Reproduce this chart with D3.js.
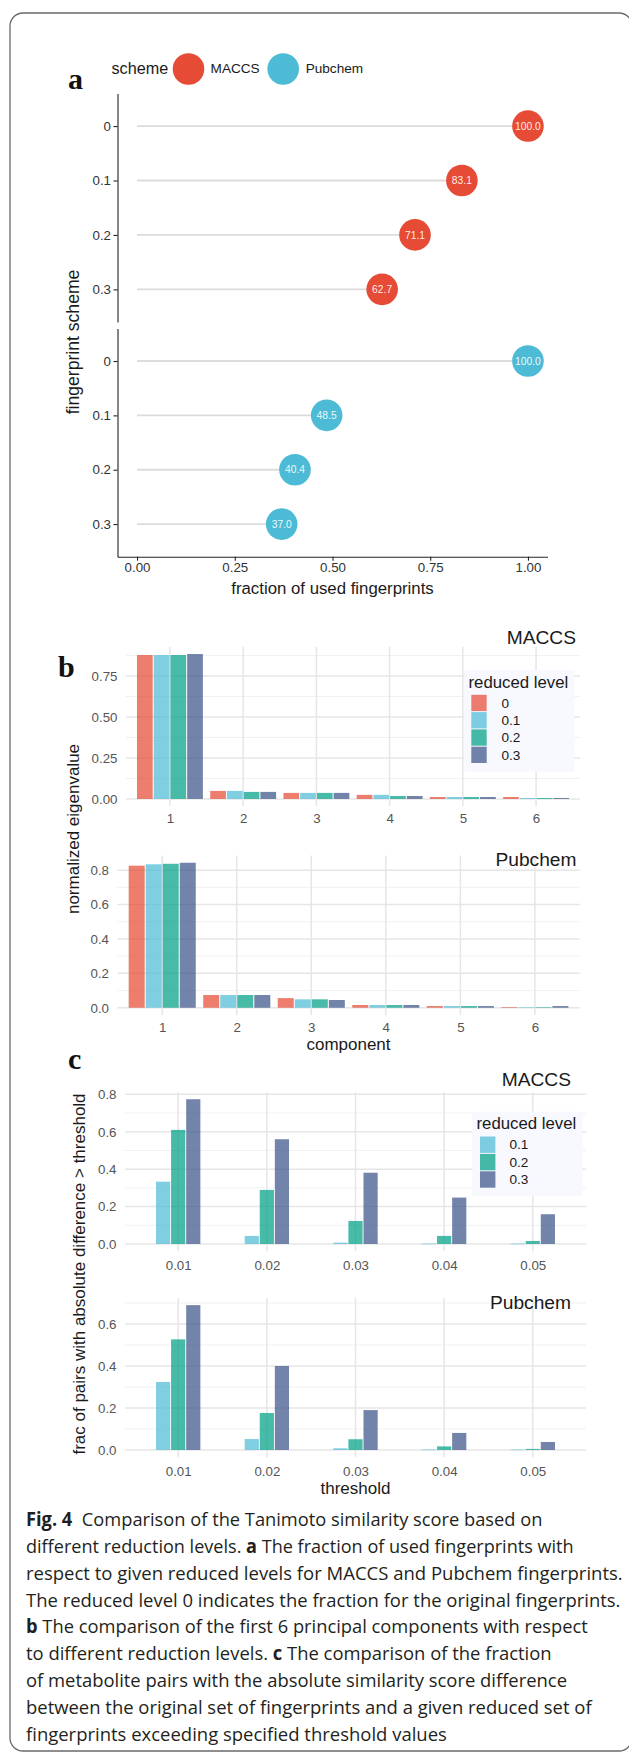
<!DOCTYPE html>
<html><head><meta charset="utf-8">
<script src="https://cdn.jsdelivr.net/npm/d3@7"></script>
<style>body{margin:0;background:#fff}svg{display:block}</style>
</head><body>
<script>
// ---------- DATA ----------
const reducedLevelsA = ["0", "0.1", "0.2", "0.3"];
const schemes = ["MACCS", "Pubchem"];
const fracMACCS = [1.000, 0.831, 0.711, 0.627];
const fracPubchem = [1.000, 0.485, 0.404, 0.370];
const fracTicks = [0, 0.25, 0.5, 0.75, 1];

const components = ["1", "2", "3", "4", "5", "6"];
const levelsB = ["0", "0.1", "0.2", "0.3"];
const eigMACCS_0  = [0.878, 0.049, 0.037, 0.025, 0.012, 0.012];
const eigMACCS_01 = [0.878, 0.049, 0.037, 0.025, 0.012, 0.006];
const eigMACCS_02 = [0.878, 0.043, 0.037, 0.018, 0.012, 0.006];
const eigMACCS_03 = [0.884, 0.043, 0.037, 0.018, 0.012, 0.006];
const eigPub_0  = [0.826, 0.074, 0.056, 0.016, 0.010, 0.004];
const eigPub_01 = [0.834, 0.074, 0.049, 0.016, 0.010, 0.003];
const eigPub_02 = [0.837, 0.074, 0.049, 0.016, 0.010, 0.003];
const eigPub_03 = [0.843, 0.074, 0.045, 0.016, 0.010, 0.010];
const ticksBMACCS = [0, 0.25, 0.5, 0.75];
const minorBMACCS = [0.125, 0.375, 0.625, 0.875];
const ticksBPub = [0, 0.2, 0.4, 0.6, 0.8];
const minorBPub = [0.1, 0.3, 0.5, 0.7];

const thresholds = ["0.01", "0.02", "0.03", "0.04", "0.05"];
const levelsC = ["0.1", "0.2", "0.3"];
const diffMACCS_01 = [0.333, 0.043, 0.007, 0.002, 0.002];
const diffMACCS_02 = [0.610, 0.289, 0.123, 0.043, 0.016];
const diffMACCS_03 = [0.774, 0.560, 0.381, 0.248, 0.159];
const diffPub_01 = [0.324, 0.052, 0.008, 0.002, 0.002];
const diffPub_02 = [0.527, 0.176, 0.051, 0.017, 0.005];
const diffPub_03 = [0.690, 0.400, 0.190, 0.081, 0.038];
const ticksCMACCS = [0, 0.2, 0.4, 0.6, 0.8];
const minorCMACCS = [0.1, 0.3, 0.5, 0.7];
const ticksCPub = [0, 0.2, 0.4, 0.6];
const minorCPub = [0.1, 0.3, 0.5, 0.7];

const levelColors = {"0": "#E64B35", "0.1": "#4DBBD5", "0.2": "#00A087", "0.3": "#3C5488"};
const schemeColors = {"MACCS": "#E64B35", "Pubchem": "#4DBBD5"};

const captionLines = [
  [["Fig. 4", true], ["  Comparison of the Tanimoto similarity score based on", false]],
  [["different reduction levels. ", false], ["a", true], [" The fraction of used fingerprints with", false]],
  [["respect to given reduced levels for MACCS and Pubchem fingerprints.", false]],
  [["The reduced level 0 indicates the fraction for the original fingerprints.", false]],
  [["b", true], [" The comparison of the first 6 principal components with respect", false]],
  [["to different reduction levels. ", false], ["c", true], [" The comparison of the fraction", false]],
  [["of metabolite pairs with the absolute similarity score difference", false]],
  [["between the original set of fingerprints and a given reduced set of", false]],
  [["fingerprints exceeding specified threshold values", false]]
];
const captionWidths = [517, 548, 597, 595, 562, 526, 541, 566, 421];

// ---------- SETUP ----------
const W = 629, H = 1752;
const FONT = "'Liberation Sans', Arial, Helvetica, sans-serif";
const svg = d3.select("body").append("svg")
  .attr("width", W).attr("height", H)
  .style("font-family", FONT);

svg.append("rect").attr("x", 10).attr("y", 13).attr("width", 622).attr("height", 1738)
  .attr("rx", 13).attr("fill", "none").attr("stroke", "#6a6a6a").attr("stroke-width", 1.3);

function panelLetter(t, x, y) {
  svg.append("text").attr("x", x).attr("y", y).text(t)
    .style("font-family", "'Liberation Serif', 'Times New Roman', serif")
    .style("font-weight", "bold").style("font-size", "30px").attr("fill", "#111");
}
function rotTitle(t, cx, cy, size) {
  svg.append("text").attr("transform", `translate(${cx},${cy}) rotate(-90)`)
    .attr("text-anchor", "middle").attr("dy", "0.35em").text(t)
    .style("font-size", size + "px").attr("fill", "#1a1a1a");
}
function hTitle(t, cx, cy, size, anchor) {
  svg.append("text").attr("x", cx).attr("y", cy).attr("dy", "0.35em")
    .attr("text-anchor", anchor || "middle").text(t)
    .style("font-size", size + "px").attr("fill", "#1a1a1a");
}

// ---------- PANEL A ----------
panelLetter("a", 68, 89);
hTitle("scheme", 111.5, 68.5, 16.2, "start");
const legA = [{s: "MACCS", cx: 188.5, tx: 210.6}, {s: "Pubchem", cx: 283.2, tx: 305.7}];
legA.forEach(l => {
  svg.append("circle").attr("cx", l.cx).attr("cy", 69).attr("r", 15.8).attr("fill", schemeColors[l.s]);
  svg.append("text").attr("x", l.tx).attr("y", 68.5).attr("dy", "0.35em").text(l.s)
    .style("font-size", "13.6px").attr("fill", "#1a1a1a");
});

const xA = d3.scaleLinear().domain([-0.05, 1.05]).range([117.5, 547.5]);
const facetsA = [
  {s: "MACCS", vals: fracMACCS, top: 93.4, bottom: 322},
  {s: "Pubchem", vals: fracPubchem, top: 328.4, bottom: 556.7}
];
facetsA.forEach(f => {
  const y = d3.scalePoint().domain(reducedLevelsA).range([f.top, f.bottom]).padding(0.6);
  const ga = svg.append("g").attr("transform", "translate(117.5,0)")
    .call(d3.axisLeft(y).tickSize(4).tickSizeOuter(0).tickPadding(2.5));
  ga.selectAll("path,line").attr("stroke", "#222").attr("stroke-width", 1.1);
  ga.selectAll("text").style("font-size", "13.3px").style("font-family", FONT).attr("fill", "#333");
  const g = svg.append("g");
  g.selectAll("line").data(f.vals).join("line")
    .attr("x1", xA(0)).attr("x2", d => xA(d))
    .attr("y1", (d, i) => y(reducedLevelsA[i])).attr("y2", (d, i) => y(reducedLevelsA[i]))
    .attr("stroke", "#dcdcdc").attr("stroke-width", 1.8);
  g.selectAll("circle").data(f.vals).join("circle")
    .attr("cx", d => xA(d)).attr("cy", (d, i) => y(reducedLevelsA[i]))
    .attr("r", 15.8).attr("fill", schemeColors[f.s]);
  g.selectAll("text").data(f.vals).join("text")
    .attr("x", d => xA(d)).attr("y", (d, i) => y(reducedLevelsA[i]))
    .attr("dy", "0.35em").attr("text-anchor", "middle")
    .text(d => d3.format(".1f")(d * 100))
    .style("font-size", "10.3px").attr("fill", "#fff").attr("fill-opacity", 0.92);
});
const gxA = svg.append("g").attr("transform", "translate(0,556.7)")
  .call(d3.axisBottom(xA).tickValues(fracTicks).tickFormat(d3.format(".2f"))
    .tickSize(4).tickSizeOuter(0).tickPadding(2));
gxA.selectAll("path,line").attr("stroke", "#222").attr("stroke-width", 1.1);
gxA.selectAll("text").style("font-size", "13.3px").style("font-family", FONT).attr("fill", "#333");
hTitle("fraction of used fingerprints", 332.5, 588.5, 16.8);
rotTitle("fingerprint scheme", 73, 342, 17.6);

// ---------- BAR PANELS ----------
function barPanel(o) {
  const x = d3.scalePoint().domain(o.cats).range([o.left, o.right]).padding(0.6);
  const m = d3.max(o.series.flat());
  const y = d3.scaleLinear().domain([-0.05 * m, 1.05 * m]).range([o.bottom, o.top]);
  const step = x.step();
  const sub = d3.scaleBand().domain(o.levels)
    .range([-o.gw * step / 2, o.gw * step / 2]).paddingInner(o.pad);
  const g = svg.append("g");
  g.selectAll(".mn").data(o.minor).join("line").attr("class", "mn")
    .attr("x1", o.left).attr("x2", o.right).attr("y1", d => y(d)).attr("y2", d => y(d))
    .attr("stroke", "#ededed").attr("stroke-width", 0.8);
  g.selectAll(".mj").data(o.major).join("line").attr("class", "mj")
    .attr("x1", o.left).attr("x2", o.right).attr("y1", d => y(d)).attr("y2", d => y(d))
    .attr("stroke", "#e6e6e6").attr("stroke-width", 1.5);
  g.selectAll(".vg").data(o.cats).join("line").attr("class", "vg")
    .attr("x1", d => x(d)).attr("x2", d => x(d)).attr("y1", o.top).attr("y2", o.bottom)
    .attr("stroke", "#e6e6e6").attr("stroke-width", 1.5);
  o.levels.forEach((lv, i) => {
    g.selectAll(".b" + i).data(o.series[i]).join("rect").attr("class", "b" + i)
      .attr("x", (d, j) => x(o.cats[j]) + sub(lv)).attr("width", sub.bandwidth())
      .attr("y", d => y(Math.max(d, 0))).attr("height", d => Math.max(0.6, Math.abs(y(d) - y(0))))
      .attr("fill", levelColors[lv]).attr("fill-opacity", 0.72);
  });
  const ya = svg.append("g").attr("transform", `translate(${o.left},0)`)
    .call(d3.axisLeft(y).tickValues(o.major).tickFormat(o.fmt).tickSize(0).tickPadding(8.5));
  ya.select(".domain").remove();
  ya.selectAll("text").style("font-size", "13.3px").style("font-family", FONT).attr("fill", "#555");
  const xa = svg.append("g").attr("transform", `translate(0,${o.bottom})`)
    .call(d3.axisBottom(x).tickSize(0).tickPadding(o.xpad));
  xa.select(".domain").remove();
  xa.selectAll("text").style("font-size", "13.3px").style("font-family", FONT).attr("fill", "#555");
  hTitle(o.title, o.titleX, o.titleY, 19.2, "end");
}

function legend(o) {
  svg.append("rect").attr("x", o.x).attr("y", o.y).attr("width", o.w).attr("height", o.h)
    .attr("fill", "#f8f8ff");
  hTitle("reduced level", o.tx, o.ty, 16.8, "start");
  const g = svg.append("g");
  g.selectAll("rect").data(o.levels).join("rect")
    .attr("x", o.kx).attr("y", (d, i) => o.ky + i * o.step)
    .attr("width", 15.4).attr("height", o.step - 1)
    .attr("fill", d => levelColors[d]).attr("fill-opacity", 0.72);
  g.selectAll("text").data(o.levels).join("text")
    .attr("x", o.lx).attr("y", (d, i) => o.ky + i * o.step + (o.step - 1) / 2)
    .attr("dy", "0.35em").text(d => d)
    .style("font-size", "13.6px").attr("fill", "#1a1a1a");
}

// ---------- PANEL B ----------
panelLetter("b", 58, 677);
barPanel({cats: components, levels: levelsB,
  series: [eigMACCS_0, eigMACCS_01, eigMACCS_02, eigMACCS_03],
  left: 126, right: 580, top: 646.8, bottom: 806.2, gw: 0.9, pad: 0.06,
  major: ticksBMACCS, minor: minorBMACCS, fmt: d3.format(".2f"), xpad: 7.5,
  title: "MACCS", titleX: 576, titleY: 637});
legend({x: 464.5, y: 670, w: 110, h: 101.7, tx: 468.5, ty: 681.7,
  kx: 471.3, ky: 694.8, step: 17.3, lx: 501.4, levels: levelsB});
barPanel({cats: components, levels: levelsB,
  series: [eigPub_0, eigPub_01, eigPub_02, eigPub_03],
  left: 117.5, right: 579.6, top: 855.5, bottom: 1015, gw: 0.9, pad: 0.06,
  major: ticksBPub, minor: minorBPub, fmt: d3.format(".1f"), xpad: 7.5,
  title: "Pubchem", titleX: 576.5, titleY: 859});
hTitle("component", 348.5, 1044, 17);
rotTitle("normalized eigenvalue", 73, 829, 17);

// ---------- PANEL C ----------
panelLetter("c", 68, 1069);
barPanel({cats: thresholds, levels: levelsC,
  series: [diffMACCS_01, diffMACCS_02, diffMACCS_03],
  left: 125, right: 586, top: 1092, bottom: 1251.2, gw: 0.5, pad: 0.06,
  major: ticksCMACCS, minor: minorCMACCS, fmt: d3.format(".1f"), xpad: 9,
  title: "MACCS", titleX: 571, titleY: 1079.5});
legend({x: 472.5, y: 1111.7, w: 110, h: 84.3, tx: 476.5, ty: 1123.3,
  kx: 480, ky: 1136.5, step: 17.4, lx: 509.4, levels: levelsC});
barPanel({cats: thresholds, levels: levelsC,
  series: [diffPub_01, diffPub_02, diffPub_03],
  left: 125, right: 586, top: 1297.9, bottom: 1457.2, gw: 0.5, pad: 0.06,
  major: ticksCPub, minor: minorCPub, fmt: d3.format(".1f"), xpad: 9,
  title: "Pubchem", titleX: 571, titleY: 1302});
hTitle("threshold", 355.5, 1488, 17);
rotTitle("frac of pairs with absolute difference > threshold", 79, 1274, 17);

// ---------- CAPTION ----------
captionLines.forEach((line, i) => {
  const t = svg.append("text").attr("x", 0).attr("y", 0)
    .style("font-family", "'Open Sans', 'Noto Sans', sans-serif")
    .style("font-size", "19px").style("white-space", "pre").attr("fill", "#231f20");
  line.forEach(([s, b]) => {
    t.append("tspan").text(s).style("font-weight", b ? "bold" : "normal");
  });
  const natural = t.node().getComputedTextLength();
  const sx = natural > 0 ? captionWidths[i] / natural : 1;
  t.attr("transform", `translate(26,${1526 + i * 26.85}) scale(${sx},1)`);
});
</script>
</body></html>
